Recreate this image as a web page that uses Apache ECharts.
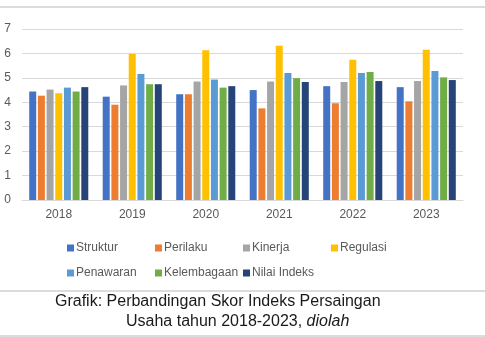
<!DOCTYPE html>
<html>
<head>
<meta charset="utf-8">
<script src="https://cdn.jsdelivr.net/npm/echarts@6/dist/echarts.min.js"></script>
<style>
  html, body { margin: 0; padding: 0; background: #fff; }
  #chart { width: 485px; height: 337px; }
</style>
</head>
<body>
<div id="chart"></div>
<script>
// Skor Indeks Persaingan Usaha per dimensi, 2018-2023
const years = ['2018', '2019', '2020', '2021', '2022', '2023'];
const struktur    = [4.44, 4.23, 4.33, 4.50, 4.66, 4.62];
const perilaku    = [4.27, 3.90, 4.33, 3.75, 3.96, 4.04];
const kinerja     = [4.52, 4.69, 4.85, 4.85, 4.83, 4.87];
const regulasi    = [4.37, 5.98, 6.13, 6.31, 5.74, 6.15];
const penawaran   = [4.60, 5.16, 4.93, 5.20, 5.20, 5.28];
const kelembagaan = [4.44, 4.74, 4.60, 4.99, 5.24, 5.02];
const nilaiIndeks = [4.62, 4.74, 4.66, 4.83, 4.87, 4.91];
const yTicks = [0, 1, 2, 3, 4, 5, 6, 7];

const seriesNames = ['Struktur', 'Perilaku', 'Kinerja', 'Regulasi', 'Penawaran', 'Kelembagaan', 'Nilai Indeks'];
const seriesData = [struktur, perilaku, kinerja, regulasi, penawaran, kelembagaan, nilaiIndeks];
const colors = ['#4472C4', '#ED7D31', '#A5A5A5', '#FFC000', '#5B9BD5', '#70AD47', '#264478'];

const font = '"Liberation Sans", Arial, sans-serif';
const textGray = '#595959';

// legend entries laid out in a fixed 4-column grid
const legendPos = [
  [67, 242], [155, 242], [243, 242], [331, 242],
  [67, 267], [155, 267], [243, 267]
];
const legends = seriesNames.map((name, i) => ({
  data: [name],
  left: legendPos[i][0],
  top: legendPos[i][1],
  itemWidth: 7,
  itemHeight: 7,
  itemGap: 0,
  padding: 0,
  icon: 'rect',
  textStyle: { color: textGray, fontSize: 12, fontFamily: font, padding: [0, 0, 0, -3] }
}));

const chart = echarts.init(document.getElementById('chart'), null, { renderer: 'canvas' });
chart.setOption({
  backgroundColor: '#ffffff',
  color: colors,
  animation: false,
  legend: legends,
  grid: { left: 22, right: 22, top: 29, height: 171, containLabel: false },
  xAxis: {
    type: 'category',
    data: years,
    axisLine: { show: true, lineStyle: { color: '#d9d9d9', width: 1 } },
    axisTick: { show: false },
    axisLabel: { color: textGray, fontSize: 12, fontFamily: font, margin: 9 }
  },
  yAxis: {
    type: 'value',
    min: yTicks[0],
    max: yTicks[yTicks.length - 1],
    interval: 1,
    axisLine: { show: false },
    axisTick: { show: false },
    axisLabel: { color: textGray, fontSize: 12, fontFamily: font, margin: 11 },
    splitLine: { lineStyle: { color: '#d9d9d9', width: 1 } }
  },
  series: seriesNames.map((name, i) => ({
    name: name,
    type: 'bar',
    data: seriesData[i],
    barWidth: 7,
    barGap: '24%'
  })),
  graphic: [
    { type: 'line', shape: { x1: 0, y1: 7, x2: 485, y2: 7 }, style: { stroke: '#d0d0d0', lineWidth: 1.5 } },
    { type: 'line', shape: { x1: 0, y1: 291, x2: 485, y2: 291 }, style: { stroke: '#d0d0d0', lineWidth: 1.5 } },
    { type: 'line', shape: { x1: 0, y1: 336, x2: 485, y2: 336 }, style: { stroke: '#d0d0d0', lineWidth: 1.5 } },
    {
      type: 'text', left: 55, top: 294,
      style: { text: 'Grafik: Perbandingan Skor Indeks Persaingan', fill: '#1a1a1a', font: '16px ' + font }
    },
    {
      type: 'text', left: 126, top: 314,
      style: {
        text: '{n|Usaha tahun 2018-2023, }{i|diolah}',
        fill: '#1a1a1a',
        font: '16px ' + font,
        rich: {
          n: { fontSize: 16, fontFamily: font, fill: '#1a1a1a' },
          i: { fontSize: 16, fontFamily: font, fontStyle: 'italic', fill: '#1a1a1a' }
        }
      }
    }
  ]
});
</script>
</body>
</html>
